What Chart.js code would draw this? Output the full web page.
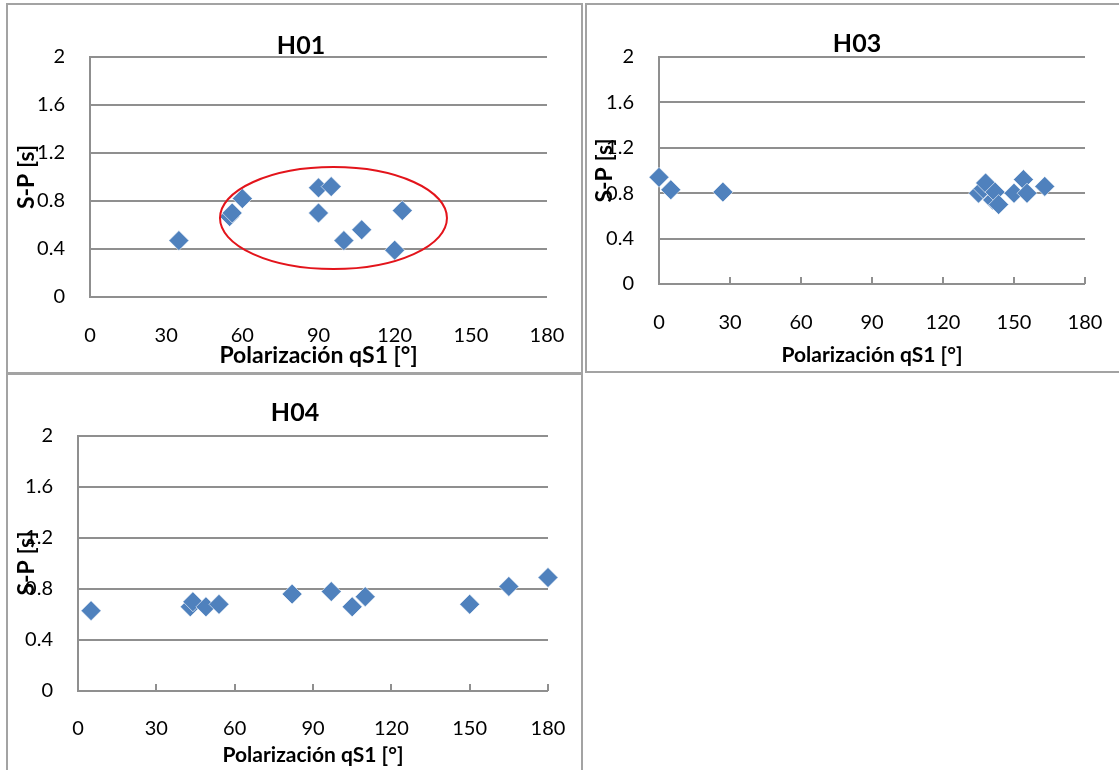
<!DOCTYPE html>
<html>
<head>
<meta charset="utf-8">
<script src="https://cdn.jsdelivr.net/npm/chart.js@4/dist/chart.umd.min.js"></script>
<style>
  html, body { margin: 0; padding: 0; background: #fff; width: 1119px; height: 770px; overflow: hidden; position: relative; }
  .frame { position: absolute; border: 2px solid #a3a3a3; box-sizing: border-box; }
  canvas { position: absolute; }
</style>
</head>
<body>
<div class="frame" style="left:6px;top:3px;width:577px;height:371px"></div>
<div class="frame" style="left:585px;top:3px;width:560px;height:370px"></div>
<div class="frame" style="left:6px;top:373px;width:577px;height:420px"></div>
<canvas id="h01" width="586" height="365" style="left:8px;top:5px"></canvas>
<canvas id="h03" width="542" height="365" style="left:586px;top:5px"></canvas>
<canvas id="h04" width="574" height="395" style="left:8px;top:375px"></canvas>
<script>
// Station H01: polarization angle (deg) and S-P time (s)
const h01Angle = [35, 55, 56, 60, 90, 95, 90, 100, 107, 120, 123];
const h01SP    = [0.47, 0.67, 0.70, 0.82, 0.91, 0.92, 0.70, 0.47, 0.56, 0.39, 0.72];

// Station H03
const h03Angle = [0, 5, 27, 135, 137, 138, 141, 142, 143.5, 150, 154, 155.5, 163];
const h03SP    = [0.94, 0.83, 0.81, 0.80, 0.84, 0.89, 0.74, 0.81, 0.70, 0.80, 0.92, 0.80, 0.86];

// Station H04
const h04Angle = [5, 43, 44, 49, 54, 82, 97, 105, 110, 150, 165, 180];
const h04SP    = [0.63, 0.66, 0.70, 0.66, 0.68, 0.76, 0.78, 0.66, 0.74, 0.68, 0.82, 0.89];

// Axis ticks
const angleTicks = [0, 30, 60, 90, 120, 150, 180];
const spTicks    = [0, 0.4, 0.8, 1.2, 1.6, 2];
const spTickLabels = ['0', '0.4', '0.8', '1.2', '1.6', '2'];

// Highlighted cluster in H01: centre (deg, s) and half-axes (deg, s)
const ringCenter = [95.9, 0.658];
const ringRadii  = [44.7, 0.425];

const FONT = 'Lato, "Open Sans", sans-serif';
const BLUE = '#4f81bd';
const GRID = '#8f8f8f';
const X_TITLE = 'Polarización qS1 [°]';
const Y_TITLE = 'S-P [s]';

const ringPlugin = {
  id: 'ring',
  afterDatasetsDraw(chart) {
    const { ctx, scales: { x, y } } = chart;
    const cx = x.getPixelForValue(ringCenter[0]);
    const cy = y.getPixelForValue(ringCenter[1]);
    const rx = Math.abs(x.getPixelForValue(ringCenter[0] + ringRadii[0]) - cx);
    const ry = Math.abs(y.getPixelForValue(ringCenter[1] + ringRadii[1]) - cy);
    ctx.save();
    ctx.strokeStyle = '#e3141b';
    ctx.lineWidth = 2;
    ctx.beginPath();
    ctx.ellipse(cx, cy, rx, ry, 0, 0, Math.PI * 2);
    ctx.stroke();
    ctx.restore();
  }
};

function panel(id, title, xs, ys, g, extra) {
  const points = xs.map((x, i) => ({ x, y: ys[i] }));
  return new Chart(document.getElementById(id), {
    type: 'scatter',
    data: {
      datasets: [{
        data: points,
        pointStyle: 'rectRot',
        pointRadius: 10,
        pointHoverRadius: 10,
        backgroundColor: BLUE,
        borderColor: 'rgba(255,255,255,0.6)',
        borderWidth: 1,
        clip: false
      }]
    },
    options: {
      responsive: false,
      animation: false,
      devicePixelRatio: 1,
      layout: { padding: { left: 0, right: 0, top: 0, bottom: g.padBottom } },
      plugins: {
        legend: { display: false },
        tooltip: { enabled: false },
        title: {
          display: true, text: title, color: '#000',
          font: { family: FONT, size: 25, weight: 'bold', lineHeight: 0.8 },
          padding: { top: g.titleTop, bottom: g.titleBottom }
        }
      },
      scales: {
        x: {
          type: 'linear', position: 'bottom', min: 0, max: 180,
          afterBuildTicks: s => { s.ticks = angleTicks.map(v => ({ value: v })); },
          ticks: { padding: g.xPad, color: '#000', font: { family: FONT, size: 20 }, maxRotation: 0, autoSkip: false },
          grid: g.insideTicks
            ? { display: true, drawOnChartArea: false, drawTicks: true, tickLength: -7, color: GRID, lineWidth: 2 }
            : { display: false, drawTicks: false },
          border: { display: false },
          title: {
            display: true, text: X_TITLE, color: '#000',
            font: { family: FONT, size: g.xTitleSize, weight: 'bold', lineHeight: 1 },
            padding: { top: 0, bottom: 0 }
          },
          afterFit: s => {
            s.height = g.xHeight;
            s.paddingLeft = 0;
            s.paddingRight = g.gapRight;
          }
        },
        y: {
          type: 'linear', min: 0, max: 2,
          afterBuildTicks: s => { s.ticks = spTicks.map(v => ({ value: v })); },
          ticks: {
            padding: 25, color: '#000', font: { family: FONT, size: 20 },
            callback: v => spTickLabels[spTicks.indexOf(v)]
          },
          grid: { color: GRID, lineWidth: 2, drawTicks: false },
          border: { display: true, color: GRID, width: 2 },
          title: {
            display: true, text: Y_TITLE, color: '#000',
            font: { family: FONT, size: 23, weight: 'bold', lineHeight: 1.2 },
            padding: { top: 5, bottom: 0 }
          },
          afterFit: s => { s.width = g.yWidth; }
        }
      }
    },
    plugins: extra ? [extra] : []
  });
}

panel('h01', 'H01', h01Angle, h01SP,
  { gapRight: 47, padBottom: 3, titleTop: 31, titleBottom: 1, xPad: 27, xHeight: 70, yWidth: 82, xTitleSize: 23, insideTicks: false },
  ringPlugin);

panel('h03', 'H03', h03Angle, h03SP,
  { gapRight: 43, padBottom: 4, titleTop: 29, titleBottom: 3, xPad: 34, xHeight: 82, yWidth: 73, xTitleSize: 21, insideTicks: true });

panel('h04', 'H04', h04Angle, h04SP,
  { gapRight: 34, padBottom: 4, titleTop: 28, titleBottom: 13, xPad: 33, xHeight: 75, yWidth: 70, xTitleSize: 21, insideTicks: true });
</script>
</body>
</html>
